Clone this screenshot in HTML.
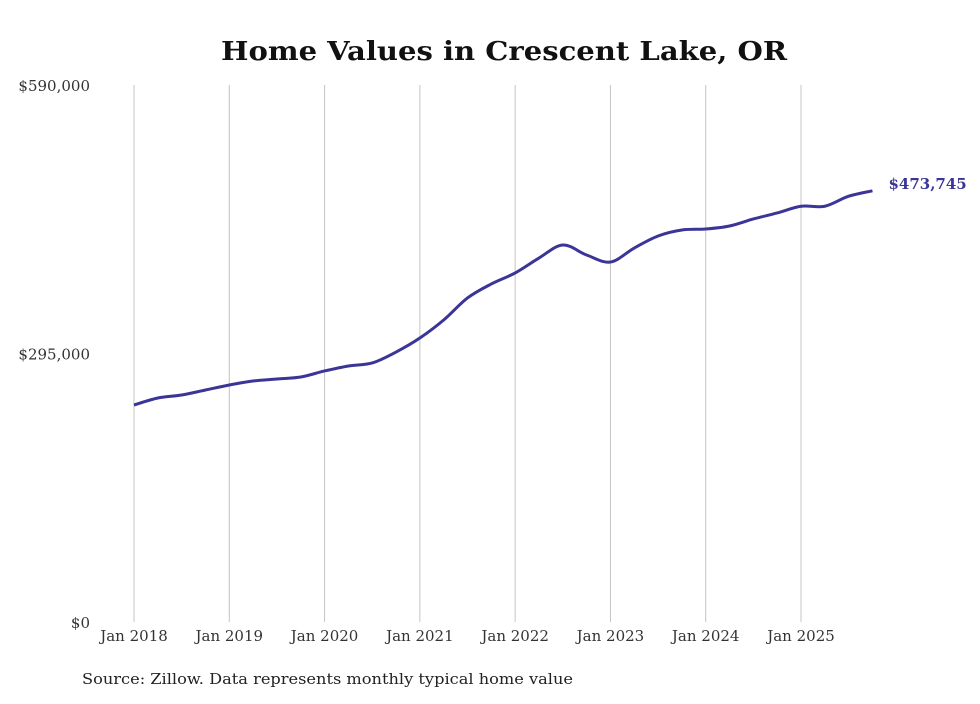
<!DOCTYPE html>
<html><head><meta charset="utf-8"><style>
body{margin:0;background:#fff;width:980px;height:699px;overflow:hidden}
svg text{font-family:"DejaVu Serif","Liberation Serif",serif}
</style></head><body>
<svg id="chart" width="980" height="699">
<text x="504" y="60" text-anchor="middle" font-size="26" font-weight="bold" fill="#111" textLength="566" lengthAdjust="spacingAndGlyphs">Home Values in Crescent Lake, OR</text>
<g id="grid"></g><g id="yax"></g><g id="xax"></g>
<path id="line" fill="none" stroke="#3a3597" stroke-width="3" stroke-linejoin="round"/>
<text id="endlabel" font-size="15" font-weight="bold" fill="#3a3597"></text>
<text x="82" y="684" font-size="15" fill="#222" textLength="491" lengthAdjust="spacingAndGlyphs">Source: Zillow. Data represents monthly typical home value</text>
</svg>
<script>
const months=[0,3,6,9,12,15,18,21,24,27,30,33,36,39,42,45,48,51,54,57,60,63,66,69,72,75,78,81,84,87,90,93];
const values=[238400,246100,249400,254900,260400,264800,267000,269200,275800,281300,284600,296600,312000,331800,356000,371400,383500,399900,414200,403200,395500,410900,424100,430700,431800,435100,442800,449400,456800,456800,467800,473745];
const yTicks=[0,295000,590000];
const yTickLabels=["$0","$295,000","$590,000"];
const xTickMonths=[0,12,24,36,48,60,72,84];
const xTickLabels=["Jan 2018","Jan 2019","Jan 2020","Jan 2021","Jan 2022","Jan 2023","Jan 2024","Jan 2025"];
const lastLabel="$473,745";
const NS="http://www.w3.org/2000/svg";
const x=m=>134+m*(801-134)/84;
const y=v=>622-v*(622-85)/590000;
function mk(t,a,p){const e=document.createElementNS(NS,t);for(const k in a)e.setAttribute(k,a[k]);p.appendChild(e);return e;}
const grid=document.getElementById('grid'),xax=document.getElementById('xax'),yax=document.getElementById('yax');
xTickMonths.forEach((m,i)=>{
 const l=mk('line',{x1:x(m),x2:x(m),y1:85,y2:622,stroke:'#c4c4c4','stroke-width':1},grid);
 
 
 const t=mk('text',{x:x(m),y:641,'text-anchor':'middle','font-size':15,fill:'#333'},xax);
 t.textContent=xTickLabels[i];
 
 
});
yTicks.forEach((v,i)=>{
 const t=mk('text',{x:90,y:y(v)+6,'text-anchor':'end','font-size':15,fill:'#333'},yax);
 t.textContent=yTickLabels[i];
 
 
});
const pts=months.map((m,i)=>[x(m),y(values[i])]);
let d='M'+pts[0][0]+','+pts[0][1];
for(let i=0;i<pts.length-1;i++){
 const p0=pts[i-1]||pts[i],p1=pts[i],p2=pts[i+1],p3=pts[i+2]||p2;
 const c1=[p1[0]+(p2[0]-p0[0])/6,p1[1]+(p2[1]-p0[1])/6],c2=[p2[0]-(p3[0]-p1[0])/6,p2[1]-(p3[1]-p1[1])/6];
 d+=` C${c1[0]},${c1[1]} ${c2[0]},${c2[1]} ${p2[0]},${p2[1]}`;
}
document.getElementById('line').setAttribute('d',d);
const el=document.getElementById('endlabel');
const lp=pts[pts.length-1];
el.setAttribute('x',lp[0]+16);el.setAttribute('y',lp[1]-2);el.textContent=lastLabel;
</script>
</body></html>
